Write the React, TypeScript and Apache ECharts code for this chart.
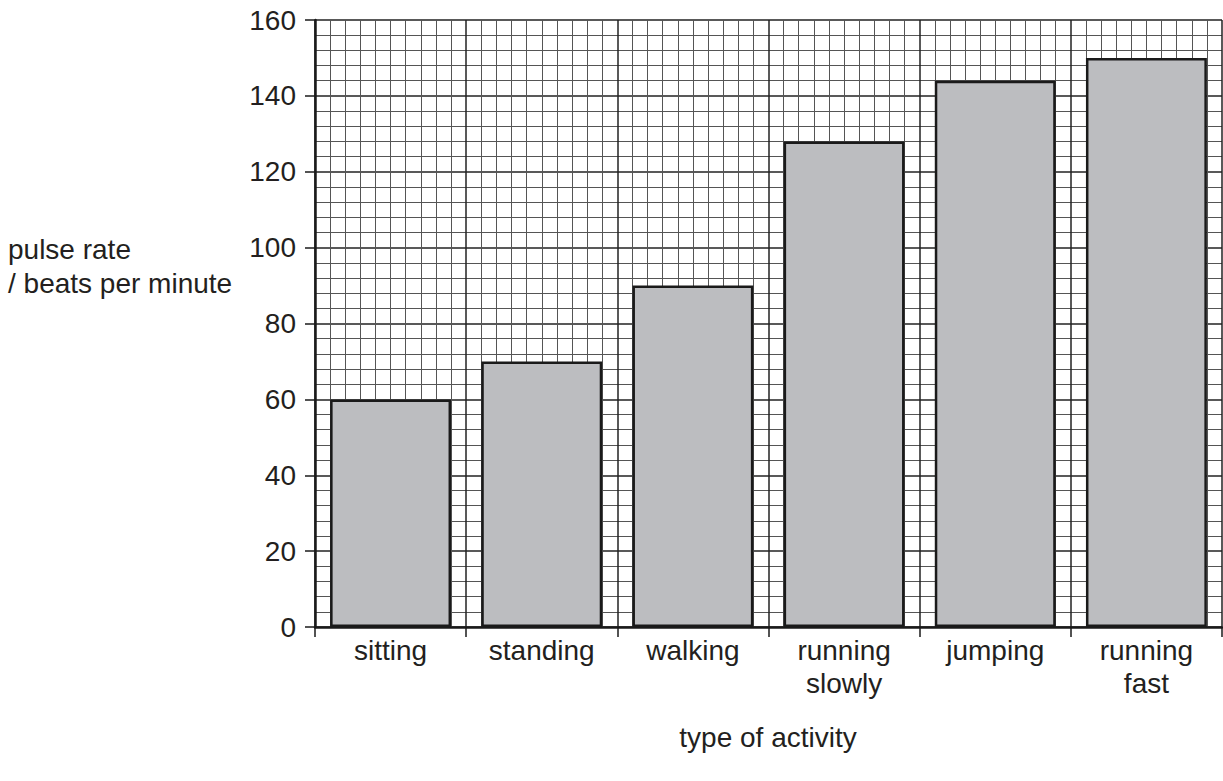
import React, { useEffect, useRef } from "react";
import * as echarts from "echarts";

const categories = ["sitting", "standing", "walking", "running\nslowly", "jumping", "running\nfast"];
const pulseRates = [60, 70, 90, 128, 144, 150];
const yMin = 0;
const yMax = 160;
const yInterval = 20;

const FONT = "'Liberation Sans', Arial, sans-serif";
const TEXT = "#231f20";

export default function App() {
  const ref = useRef<HTMLDivElement>(null);
  useEffect(() => {
    if (!ref.current) return;
    const chart = echarts.init(ref.current, null, { renderer: "svg" });
    chart.setOption({
      animation: false,
      backgroundColor: "#ffffff",
      grid: { left: 315, right: 1, top: 20, bottom: 154, containLabel: false },
      xAxis: [
        {
          type: "category",
          data: categories,
          boundaryGap: true,
          position: "bottom",
          axisLine: { show: true, lineStyle: { color: "#1a1a1a", width: 2.5 } },
          axisTick: { show: true, alignWithLabel: false, length: 10, lineStyle: { color: "#1a1a1a", width: 1.5 } },
          axisLabel: {
            show: true,
            margin: 7,
            color: TEXT,
            fontFamily: FONT,
            fontSize: 28,
            lineHeight: 33,
            interval: 0,
          },
          splitLine: { show: false },
          z: 0,
        },
        {
          type: "value",
          min: 0,
          max: categories.length * 10,
          interval: 10,
          position: "bottom",
          axisLine: { show: false },
          axisTick: { show: false },
          axisLabel: { show: false },
          splitLine: { show: true, lineStyle: { color: "#222", width: 1.5 } },
          minorTick: { show: false, splitNumber: 10 },
          minorSplitLine: { show: true, lineStyle: { color: "#555", width: 1 } },
          z: 0,
        },
      ],
      yAxis: {
        type: "value",
        min: yMin,
        max: yMax,
        interval: yInterval,
        axisLine: { show: true, lineStyle: { color: "#1a1a1a", width: 2.5 } },
        axisTick: { show: true, length: 10, lineStyle: { color: "#1a1a1a", width: 1.5 } },
        axisLabel: {
          margin: 19,
          color: TEXT,
          fontFamily: FONT,
          fontSize: 28,
        },
        splitLine: { show: true, lineStyle: { color: "#222", width: 1.5 } },
        minorTick: { show: false, splitNumber: 5 },
        minorSplitLine: { show: true, lineStyle: { color: "#555", width: 1 } },
        z: 0,
      },
      series: [
        {
          type: "bar",
          xAxisIndex: 0,
          data: pulseRates,
          barCategoryGap: "20%",
          itemStyle: { color: "#bcbdc0", borderColor: "#1a1a1a", borderWidth: 2.5 },
          z: 3,
        },
      ],
      graphic: [
        {
          type: "text",
          left: 8,
          top: 232,
          z: 10,
          style: {
            text: "pulse rate\n/ beats per minute",
            font: `28px ${FONT}`,
            fill: TEXT,
            lineHeight: 34,
          },
        },
        {
          type: "text",
          x: 768,
          y: 737,
          z: 10,
          style: {
            text: "type of activity",
            font: `28px ${FONT}`,
            fill: TEXT,
            textAlign: "center",
            textVerticalAlign: "middle",
          },
        },
      ],
    });
    return () => chart.dispose();
  }, []);
  return (
    <div
      ref={ref}
      style={{ position: "absolute", left: 0, top: 0, width: 1223, height: 781 }}
    />
  );
}
